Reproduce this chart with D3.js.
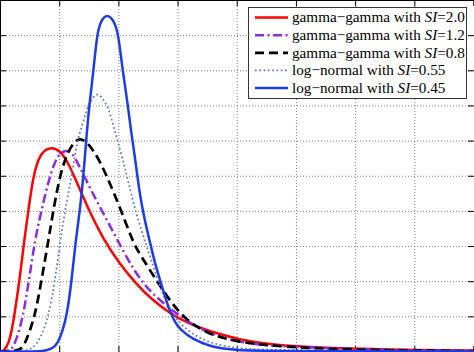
<!DOCTYPE html>
<html><head><meta charset="utf-8">
<script src="https://cdn.jsdelivr.net/npm/d3@7"></script>
<style>html,body{margin:0;padding:0;background:#fff;overflow:hidden}</style>
</head><body>
<svg id="c" width="474" height="352"></svg>
<script>
// tick values (grid units)
const xTicks = [0,1,2,3,4,5,6,7,8];
const yTicks = [0,1,2,3,4,5,6,7,8,9,10];

// legend labels: [prefix, italic part, suffix]
const labels = [
  ["gamma\u2212gamma with ", "SI", "=2.0"],
  ["gamma\u2212gamma with ", "SI", "=1.2"],
  ["gamma\u2212gamma with ", "SI", "=0.8"],
  ["log\u2212normal with ", "SI", "=0.55"],
  ["log\u2212normal with ", "SI", "=0.45"]
];

// series values [x, pdf]
const gg20 = [[0,0],[0.05,0.01],[0.10,0.09],[0.17,0.34],[0.24,0.99],[0.33,2.02],[0.41,3.18],[0.48,4.01],[0.56,5.00],[0.68,5.65],[0.84,5.82],[1.01,5.74],[1.15,5.37],[1.25,5.00],[1.49,4.06],[1.74,3.21],[2.03,2.47],[2.30,1.93],[2.53,1.53],[2.87,1.08],[3.21,0.77],[3.67,0.51],[4.05,0.34],[4.56,0.20],[5.07,0.14],[6.08,0.07],[7.09,0.04],[8.0,0.03]];
const gg12 = [[0,0],[0.14,0.01],[0.20,0.06],[0.28,0.34],[0.39,0.99],[0.49,2.02],[0.59,3.18],[0.70,4.01],[0.84,5.00],[0.98,5.63],[1.13,5.74],[1.22,5.65],[1.30,5.40],[1.39,5.11],[1.55,4.55],[1.72,4.01],[1.89,3.47],[2.06,2.93],[2.23,2.41],[2.40,1.99],[2.57,1.65],[2.87,1.22],[3.26,0.74],[3.67,0.43],[4.05,0.27],[4.51,0.17],[5.07,0.13],[6.08,0.06],[8.0,0.01]];
const gg08 = [[0,0],[0.25,0.01],[0.37,0.06],[0.45,0.34],[0.59,0.99],[0.70,2.02],[0.82,3.18],[0.90,4.01],[1.01,5.00],[1.15,5.74],[1.32,6.09],[1.45,5.99],[1.57,5.74],[1.69,5.40],[1.80,5.00],[1.91,4.57],[2.06,3.95],[2.20,3.32],[2.30,2.95],[2.40,2.67],[2.56,2.24],[2.70,1.88],[2.87,1.45],[3.10,0.97],[3.43,0.57],[3.83,0.34],[4.22,0.24],[4.51,0.18],[5.07,0.11],[6.08,0.04],[8.0,0.01]];
const ln055 = [[0,0],[0.34,0],[0.54,0.06],[0.68,0.34],[0.82,0.99],[0.93,2.02],[1.02,3.18],[1.10,4.01],[1.21,5.00],[1.31,6.02],[1.38,6.40],[1.44,6.73],[1.49,7.01],[1.58,7.25],[1.64,7.33],[1.71,7.27],[1.80,7.02],[1.86,6.78],[1.91,6.45],[2.03,5.74],[2.13,5.09],[2.21,4.52],[2.33,3.75],[2.47,3.04],[2.59,2.42],[2.67,1.99],[2.76,1.59],[2.87,1.19],[2.98,0.91],[3.21,0.53],[3.49,0.29],[3.77,0.15],[4.22,0.06],[5.07,0.03],[8.0,0.01]];
const ln045 = [[0,0],[0.59,0],[0.76,0.02],[0.84,0.06],[0.93,0.14],[1.01,0.34],[1.13,0.99],[1.21,2.02],[1.28,3.18],[1.35,4.01],[1.41,5.00],[1.47,6.31],[1.51,7.02],[1.58,8.01],[1.64,9.03],[1.70,9.40],[1.81,9.62],[1.93,9.40],[2.00,9.03],[2.07,8.01],[2.16,7.02],[2.21,6.31],[2.27,5.65],[2.32,5.00],[2.37,4.40],[2.43,3.86],[2.53,3.13],[2.62,2.50],[2.70,2.05],[2.79,1.56],[2.87,1.14],[2.96,0.82],[3.04,0.63],[3.26,0.34],[3.55,0.15],[3.77,0.08],[4.00,0.04],[4.39,0.01],[8.0,0]];

const seriesData = [gg20, gg12, gg08, ln055, ln045];
const styles = [
  {color:"#ff0000", width:2.5, dash:null},
  {color:"#8a2be2", width:2.5, dash:"9,3.5,2,3.5"},
  {color:"#000000", width:2.7, dash:"9,5"},
  {color:"#5a6fe0", width:1.7, dash:"1.7,2.6"},
  {color:"#1e3ce6", width:2.5, dash:null}
];

const W = 474, H = 352;
const svg = d3.select("#c");
const x = d3.scaleLinear().domain([0, 8]).range([0, 473.5]);
const y = d3.scaleLinear().domain([0, 10]).range([351.5, 0]);

// grid
const gx = svg.append("g")
  .call(d3.axisBottom(x).tickValues(xTicks.slice(1, -1)).tickSize(H).tickFormat(""));
gx.select(".domain").remove();
gx.selectAll("line").attr("stroke", "#808080").attr("stroke-dasharray", "1,2");
const gy = svg.append("g")
  .call(d3.axisRight(y).tickValues(yTicks.slice(1, -1)).tickSize(W).tickFormat(""));
gy.select(".domain").remove();
gy.selectAll("line").attr("stroke", "#808080").attr("stroke-dasharray", "1,2");

// ticks on all four sides (inward)
const tl = 6;
const axes = [
  svg.append("g").call(d3.axisTop(x).tickValues(xTicks).tickSize(-tl).tickFormat("")),
  svg.append("g").attr("transform", `translate(0,${H})`).call(d3.axisBottom(x).tickValues(xTicks).tickSize(-tl).tickFormat("")),
  svg.append("g").call(d3.axisLeft(y).tickValues(yTicks).tickSize(-tl).tickFormat("")),
  svg.append("g").attr("transform", `translate(${W},0)`).call(d3.axisRight(y).tickValues(yTicks).tickSize(-tl).tickFormat(""))
];
axes.forEach(a => { a.select(".domain").attr("stroke", "#000"); a.selectAll("line").attr("stroke", "#000"); });

// curves
const line = d3.line().x(d => x(d[0])).y(d => y(d[1])).curve(d3.curveBasis);
seriesData.forEach((s, i) => {
  const st = styles[i];
  svg.append("path").datum(s).attr("d", line)
    .attr("fill", "none").attr("stroke", st.color).attr("stroke-width", st.width)
    .attr("stroke-dasharray", st.dash).attr("stroke-linejoin", "round");
});

// legend
const lg = svg.append("g");
lg.append("rect").attr("x", 248.5).attr("y", 7.5).attr("width", 218).attr("height", 91)
  .attr("fill", "#fff").attr("stroke", "#333").attr("stroke-width", 1);
const texts = [];
labels.forEach((lab, i) => {
  const cy = 17.5 + i * 17.65;
  const st = styles[i];
  lg.append("line").attr("x1", 255).attr("x2", 288).attr("y1", cy).attr("y2", cy)
    .attr("stroke", st.color).attr("stroke-width", st.width).attr("stroke-dasharray", st.dash);
  const t = lg.append("text").attr("x", 292).attr("y", cy + 4.8)
    .attr("font-family", "'Liberation Serif', 'Times New Roman', serif").attr("font-size", "16px").attr("fill", "#000");
  t.append("tspan").text(lab[0]);
  t.append("tspan").attr("font-style", "italic").text(lab[1]);
  t.append("tspan").text(lab[2]);
  texts.push(t);
});
// fit font size so the first label spans the legend width as in the reference
const w0 = texts[0].node().getComputedTextLength();
const fs = Math.min(17.6, 16 * 173 / w0);
texts.forEach(t => t.attr("font-size", fs + "px"));
</script>
</body></html>
